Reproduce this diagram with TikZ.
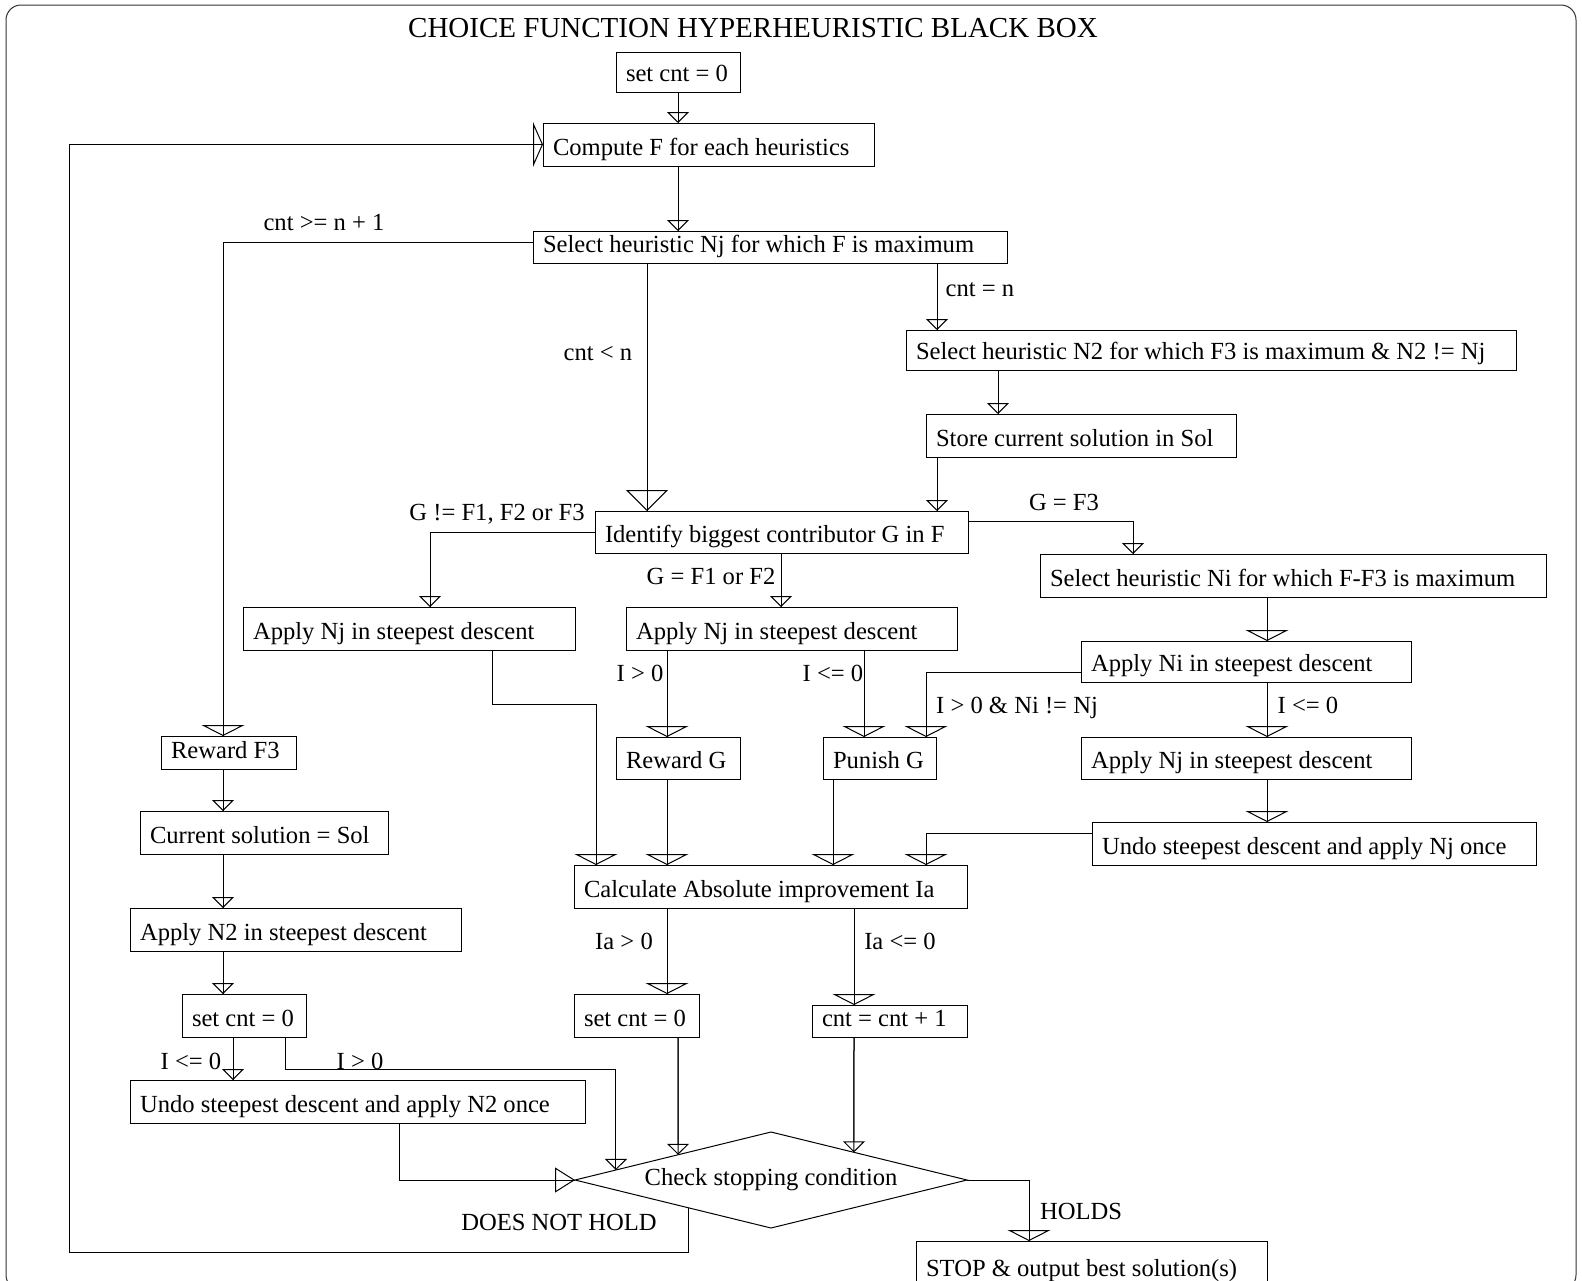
\documentclass[tikz,border=0pt]{standalone}
\usepackage{fontspec}
\setmainfont{Liberation Serif}
\usetikzlibrary{arrows.meta,calc,shapes.geometric}
\newcommand\bx[6]{%
  \pgfmathsetmacro\bxw{#4-#2-20}%
  \pgfmathsetmacro\bxh{#5-#3-10.5}%
  \node[box, text height=\bxh pt, text depth=10.5pt] (#1) at (#2,#3) {\makebox[\bxw pt][l]{#6}};}
\begin{document}
\begin{tikzpicture}[x=1pt,y=-1pt, line width=1pt,
  font=\fontsize{24.6}{29}\selectfont,
  box/.style={draw, anchor=north west, inner xsep=10pt, inner ysep=0pt, outer sep=0pt},
  lbl/.style={inner sep=0pt, text height=16pt, text depth=0pt},
  nar/.style={-{Triangle[open,width=22pt,length=11pt]}, postaction={draw,-}},
  wid/.style={-{Triangle[open,width=43pt,length=11pt]}, postaction={draw,-}},
  big/.style={-{Triangle[open,width=42pt,length=21pt]}, postaction={draw,-}},
  side/.style={-{Triangle[open,width=45pt,length=10pt]}, postaction={draw,-}},
  dl/.style={-{Triangle[open,width=25pt,length=20pt]}, postaction={draw,-}}]
\useasboundingbox (0,0) rectangle (1582,1280);
\clip (0,0) rectangle (1582,1280);
\draw[rounded corners=15pt, black!80] (6,5) rectangle (1576,1290);

\node[inner sep=0pt, font=\fontsize{29}{34}\selectfont, text height=19pt, text depth=0pt] (title) at (753,28) {CHOICE FUNCTION HYPERHEURISTIC BLACK BOX};

\bx{sc1}{616}{52}{740}{92}{set cnt = 0}
\bx{cf}{543}{123}{874}{166}{Compute F for each heuristics}
\bx{snj}{533}{231}{1007}{263}{Select heuristic Nj for which F is maximum}
\bx{sn2}{906}{330}{1516}{370}{Select heuristic N2 for which F3 is maximum \& N2 != Nj}
\bx{st}{926}{414}{1236}{457}{Store current solution in Sol}
\bx{id}{595}{511}{968}{553}{Identify biggest contributor G in F}
\bx{sni}{1040}{554}{1546}{597}{Select heuristic Ni for which F-F3 is maximum}
\bx{ani}{1081}{641}{1411}{682}{Apply Ni in steepest descent}
\bx{anjr}{1081}{737}{1411}{779}{Apply Nj in steepest descent}
\bx{unj}{1092}{822}{1536}{865}{Undo steepest descent and apply Nj once}
\bx{anjl}{243}{607}{575}{650}{Apply Nj in steepest descent}
\bx{anjm}{626}{607}{957}{650}{Apply Nj in steepest descent}
\bx{rg}{616}{737}{740}{779}{Reward G}
\bx{pg}{823}{737}{936}{779}{Punish G}
\bx{ca}{574}{865}{967}{908}{Calculate Absolute improvement Ia}
\bx{sc2}{574}{994}{699}{1037}{set cnt = 0}
\bx{cp}{812}{1005}{967}{1037}{cnt = cnt + 1}
\bx{rf3}{161}{736}{296}{769}{Reward F3}
\bx{cs}{140}{811}{388}{854}{Current solution = Sol}
\bx{an2}{130}{908}{461}{951}{Apply N2 in steepest descent}
\bx{sc3}{182}{994}{306}{1037}{set cnt = 0}
\bx{un2}{130}{1080}{585}{1123}{Undo steepest descent and apply N2 once}
\bx{stop}{916}{1241}{1267}{1287}{STOP \& output best solution(s)}

\node[draw, diamond, minimum width=392pt, minimum height=96pt, inner sep=0pt, outer sep=0pt, shape aspect=4] (dia) at (771,1180) {Check stopping condition};

% labels
\node[lbl] (l1) at (324,222) {cnt >= n + 1};
\node[lbl] (l2) at (598,352) {cnt < n};
\node[lbl] (l3) at (980,288) {cnt = n};
\node[lbl] (l4) at (1064,502) {G = F3};
\node[lbl] (l5) at (497,512) {G != F1, F2 or F3};
\node[lbl] (l6) at (711,576) {G = F1 or F2};
\node[lbl] (l7) at (640,673) {I > 0};
\node[lbl] (l8) at (833,673) {I <= 0};
\node[lbl] (l9) at (1017,705) {I > 0 \& Ni != Nj};
\node[lbl] (l10) at (1308,705) {I <= 0};
\node[lbl] (l11) at (624,941) {Ia > 0};
\node[lbl] (l12) at (900,941) {Ia <= 0};
\node[lbl] (l13) at (191,1061) {I <= 0};
\node[lbl] (l14) at (360,1061) {I > 0};
\node[lbl] (l15) at (1081,1211) {HOLDS};
\node[lbl] (l16) at (559,1222) {DOES NOT HOLD};

% connectors
\draw[nar] ([xshift=62pt]sc1.south west) -- ([xshift=135pt]cf.north west);
\draw[nar] ([xshift=135pt]cf.south west) -- ([xshift=145pt]snj.north west);
\draw[wid] ([yshift=5pt]snj.west) -| ([xshift=62pt]rf3.north west);
\draw[big] ([xshift=114pt]snj.south west) -- ([xshift=52pt]id.north west);
\draw[nar] ([xshift=404pt]snj.south west) -- ([xshift=31pt]sn2.north west);
\draw[nar] ([xshift=92pt]sn2.south west) -- ([xshift=72pt]st.north west);
\draw[nar] ([xshift=11pt]st.south west) -- ([xshift=342pt]id.north west);
\draw[nar] ([yshift=11pt]id.east) -| ([xshift=93pt]sni.north west);
\draw[wid] ([xshift=227pt]sni.south west) -- ([xshift=186pt]ani.north west);
\draw[wid] ([yshift=-10.5pt]ani.west) -| ([xshift=103pt]pg.north west);
\draw[wid] ([xshift=186pt]ani.south west) -- ([xshift=186pt]anjr.north west);
\draw[wid] ([xshift=186pt]anjr.south west) -- ([xshift=175pt]unj.north west);
\draw[wid] ([yshift=10.5pt]unj.west) -| ([xshift=352pt]ca.north west);
\draw[nar] (id.west) -| ([xshift=187pt]anjl.north west);
\draw[wid] ([xshift=249pt]anjl.south west) -- ++(0,54) -| ([xshift=22pt]ca.north west);
\draw[nar] ([xshift=186pt]id.south west) -- ([xshift=155pt]anjm.north west);
\draw[wid] ([xshift=41pt]anjm.south west) -- ([xshift=51pt]rg.north west);
\draw[wid] ([xshift=238pt]anjm.south west) -- ([xshift=41pt]pg.north west);
\draw[wid] ([xshift=51pt]rg.south west) -- ([xshift=93pt]ca.north west);
\draw[wid] ([xshift=10pt]pg.south west) -- ([xshift=259pt]ca.north west);
\draw[wid] ([xshift=93pt]ca.south west) -- ([xshift=93pt]sc2.north west);
\draw[wid] ([xshift=280pt]ca.south west) -- ([xshift=42pt]cp.north west);
\draw[nar] ([xshift=104pt]sc2.south west) -- ($(dia.west)!0.526!(dia.north)$);
\draw[nar] ([xshift=42pt]cp.south west) -- ($(dia.north)!0.423!(dia.east)$);
\draw[wid] (dia.east) -| ([xshift=113pt]stop.north west);
\coordinate (fb) at (69,1252);
\draw[side] ($(dia.west)!0.577!(dia.south)$) |- (fb) |- (cf.west);
\draw[nar] ([xshift=62pt]rf3.south west) -- ([xshift=83pt]cs.north west);
\draw[nar] ([xshift=83pt]cs.south west) -- ([xshift=93pt]an2.north west);
\draw[nar] ([xshift=93pt]an2.south west) -- ([xshift=41pt]sc3.north west);
\draw[nar] ([xshift=51pt]sc3.south west) -- ([xshift=103pt]un2.north west);
\draw[nar] ([xshift=103pt]sc3.south west) -- ++(0,32) -| ($(dia.west)!0.209!(dia.north)$);
\draw[dl] ([xshift=269pt]un2.south west) |- (dia.west);
\end{tikzpicture}
\end{document}
